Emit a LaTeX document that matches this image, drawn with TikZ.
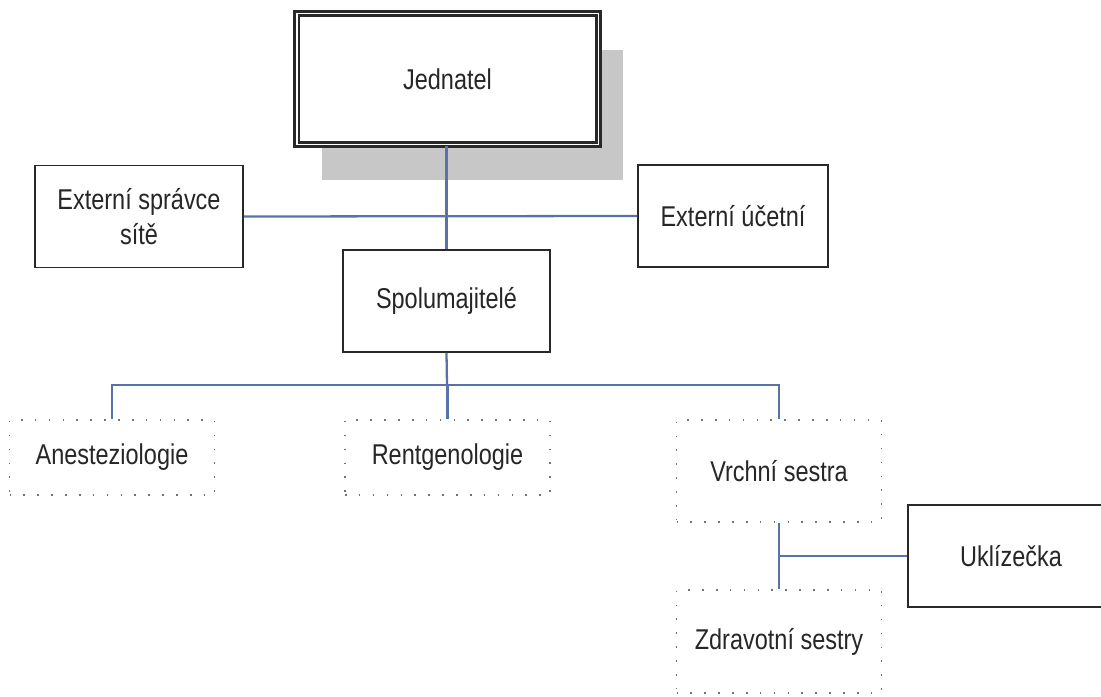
\documentclass[tikz,border=0pt]{standalone}
\usepackage{fontspec}
\setmainfont{Liberation Sans}[FakeStretch=0.82]
\usetikzlibrary{shadows}
\definecolor{linkblue}{RGB}{86,116,168}
\definecolor{boxgray}{RGB}{40,40,40}
\begin{document}
\begin{tikzpicture}[x=0.02cm, y=-0.02cm,
  every node/.style={font=\fontsize{16.3}{20}\selectfont, text=black!85, align=center},
  box/.style={draw=boxgray, line width=1.1pt, fill=white, minimum height=2.04cm},
  dotbox/.style={draw=black!55, line width=1pt, dash pattern=on 0.9pt off 7pt, minimum width=4.1cm},
  link/.style={draw=linkblue, line width=1.3pt}]
  \clip (0,0) rectangle (1101,696);

  % management
  \node[box, double=white, line width=1.4pt, double distance=1.1pt, minimum width=6.04cm, minimum height=2.62cm,
    drop shadow={shadow xshift=0.5cm, shadow yshift=-0.72cm, fill=black!22, opacity=1}]
    (jed) at (447.5,79) {Jednatel};
  \node[box, minimum width=4.16cm] (ext) at (139,216.5) {Externí správce\\sítě};
  \node[box, minimum width=3.8cm] (acc) at (733,216) {Externí účetní};
  \node[box, minimum width=4.14cm] (spol) at (446.5,301) {Spolumajitelé};

  % departments
  \node[dotbox, minimum height=1.5cm] (ane) at (112,457.5) {Anesteziologie};
  \node[dotbox, minimum height=1.5cm] (ren) at (447.5,457.5) {Rentgenologie};
  \node[dotbox, minimum height=2.04cm] (vrch) at (779,471) {Vrchní sestra};
  \node[dotbox, minimum height=2.06cm] (zdr) at (779,641.5) {Zdravotní sestry};
  \node[box, minimum width=4.12cm] (ukl) at (1011,556) {Uklízečka};

  % connectors
  \coordinate (bus) at (447,385);
  \draw[link] (spol.north) -- (spol.north |- jed.south);
  \draw[link] (ext.east) -- (acc.west);
  \draw[link] (spol.south) -- (bus);
  \draw[link] (ane.north) |- (bus) -| (vrch.north);
  \draw[link] (ren.north) -- (ren.north |- bus);
  \draw[link] (vrch.south) -- (zdr.north);
  \draw[link] (ukl.west) -- (ukl.west -| vrch.south);
\end{tikzpicture}
\end{document}
